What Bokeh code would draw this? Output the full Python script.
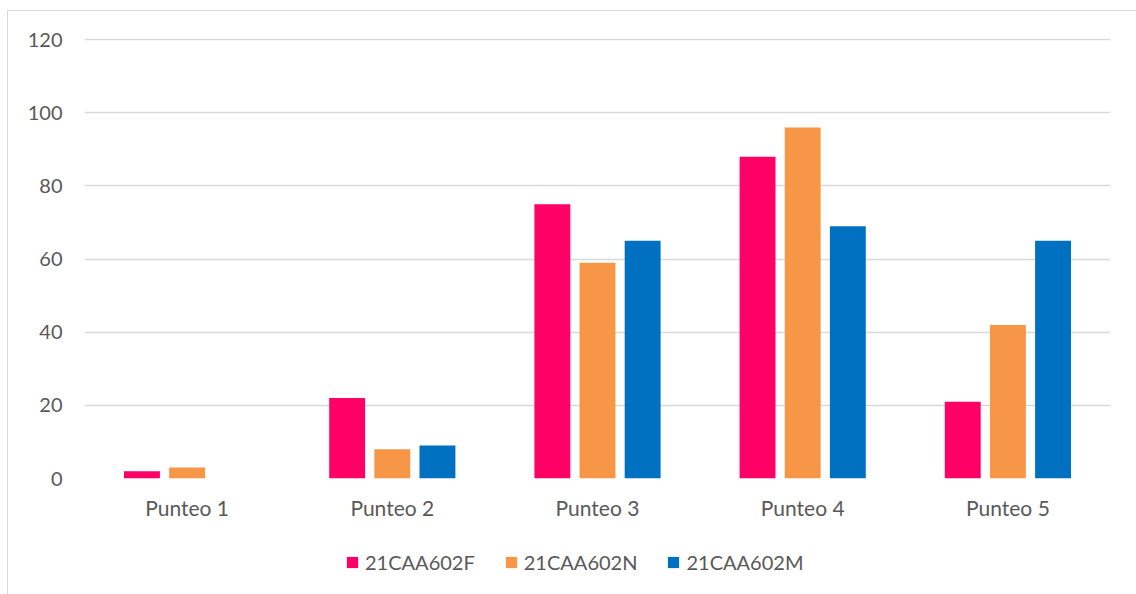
from bokeh.plotting import figure
from bokeh.layouts import column
from bokeh.models import ColumnDataSource, FactorRange, Range1d, Legend, LegendItem
from bokeh.transform import dodge
from bokeh.embed import file_html
from bokeh.resources import INLINE

categories = ["Punteo 1", "Punteo 2", "Punteo 3", "Punteo 4", "Punteo 5"]
series_names = ["21CAA602F", "21CAA602N", "21CAA602M"]
values_f = [2, 22, 75, 88, 21]
values_n = [3, 8, 59, 96, 42]
values_m = [0, 9, 65, 69, 65]
colors = ["#FF0066", "#F79646", "#0070C0"]
y_ticks = [0, 20, 40, 60, 80, 100, 120]

FONT = "Lato"
TXT = "#595959"
FS = "20px"

src = ColumnDataSource(dict(cat=categories, f=values_f, n=values_n, m=values_m))

p = figure(x_range=FactorRange(factors=categories), y_range=Range1d(0, 120.3),
           width=1136, height=530, output_backend="svg", toolbar_location=None,
           min_border_left=84, min_border_right=26, min_border_top=38, min_border_bottom=52)

for key, off, col in zip(["f", "n", "m"], [-0.22, 0.0, 0.22], colors):
    p.vbar(x=dodge("cat", off, range=p.x_range), top=key, width=0.175,
           source=src, fill_color=col, line_color=None)

p.outline_line_color = None
p.xgrid.grid_line_color = None
p.ygrid.grid_line_color = "#d9d9d9"
p.ygrid.grid_line_width = 1.3
p.yaxis.ticker = y_ticks

for ax in (p.xaxis[0], p.yaxis[0]):
    ax.axis_line_color = None
    ax.major_tick_line_color = None
    ax.minor_tick_line_color = None
    ax.major_tick_out = 0
    ax.major_tick_in = 0
    ax.major_label_text_font = FONT
    ax.major_label_text_font_size = FS
    ax.major_label_text_color = TXT
p.xaxis.major_label_text_font_size = "21px"
p.yaxis.major_label_standoff = 22
p.xaxis.major_label_standoff = 16

# legend strip below the chart (same data, scrolled out of view; only the legend shows)
lf = figure(x_range=FactorRange(factors=categories), y_range=Range1d(1000, 1001),
            width=1136, height=64,
            output_backend="svg", toolbar_location=None, x_axis_type=None, y_axis_type=None,
            min_border_left=0, min_border_right=0, min_border_top=0, min_border_bottom=0)
lf.outline_line_color = None
lf.xgrid.visible = False
lf.ygrid.visible = False
items = []
for key, name, col in zip(["f", "n", "m"], series_names, colors):
    r = lf.vbar(x="cat", top=key, width=0.175, source=src, fill_color=col, line_color=None)
    items.append(LegendItem(label=name, renderers=[r], index=0))

legend = Legend(items=items, orientation="horizontal", location=(261, 20),
                label_text_font=FONT, label_text_font_size=FS, label_text_color=TXT,
                glyph_width=14, glyph_height=14, label_standoff=6, spacing=29,
                border_line_color=None, background_fill_alpha=0, margin=0, padding=0)
lf.add_layout(legend, "center")

layout = column(p, lf, spacing=0)

html = file_html(layout, INLINE)
border = ('<div style="position:fixed;left:7px;top:10px;width:3000px;height:3000px;'
          'border-left:1px solid #d9d9d9;border-top:1px solid #d9d9d9;pointer-events:none"></div>')
html = html.replace("</body>", border + "</body>")
html = html.replace("<body>", '<body style="margin:0">')
open("out.html", "w").write(html)
